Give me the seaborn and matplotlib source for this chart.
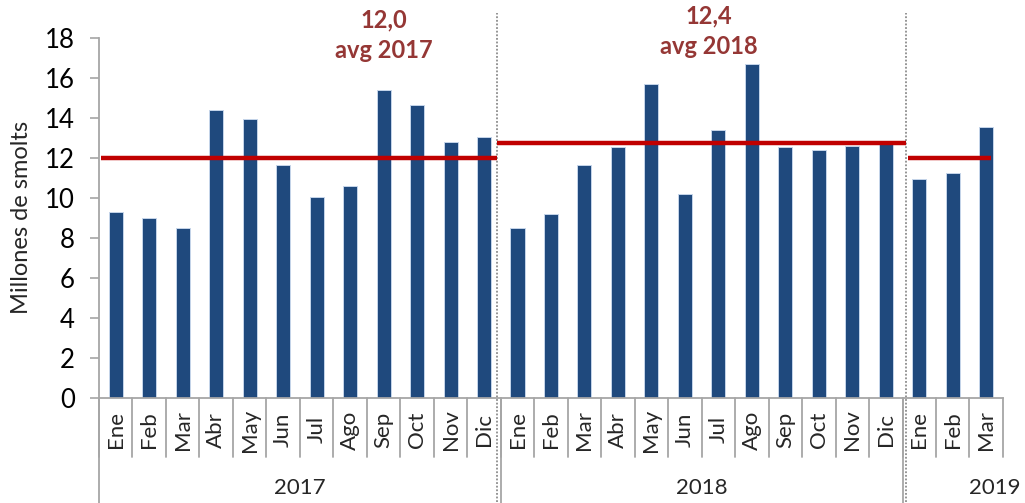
import matplotlib
matplotlib.use("Agg")
import matplotlib.pyplot as plt
import seaborn as sns
import pandas as pd
import numpy as np
from matplotlib.transforms import blended_transform_factory

# ---------------- data ----------------
years = ["2017", "2018", "2019"]
months_2017 = ["Ene", "Feb", "Mar", "Abr", "May", "Jun", "Jul", "Ago", "Sep", "Oct", "Nov", "Dic"]
months_2018 = ["Ene", "Feb", "Mar", "Abr", "May", "Jun", "Jul", "Ago", "Sep", "Oct", "Nov", "Dic"]
months_2019 = ["Ene", "Feb", "Mar"]
values_2017 = [9.3, 9.0, 8.5, 14.4, 13.95, 11.65, 10.05, 10.6, 15.4, 14.65, 12.8, 13.05]
values_2018 = [8.5, 9.2, 11.65, 12.55, 15.7, 10.2, 13.4, 16.7, 12.55, 12.4, 12.6, 12.85]
values_2019 = [10.95, 11.25, 13.55]
avg_lines = [12.0, 12.75, 12.0]
avg_values_text = ["12,0", "12,4", None]
ylabel = "Millones de smolts"

months_by_year = [months_2017, months_2018, months_2019]
values_by_year = [values_2017, values_2018, values_2019]

rows = []
for y, ms, vs in zip(years, months_by_year, values_by_year):
    for m, v in zip(ms, vs):
        rows.append({"key": f"{m}-{y}", "month": m, "year": y, "value": v})
df = pd.DataFrame(rows)
order = list(df["key"])

# ---------------- style ----------------
sns.set_theme(style="white")
plt.rcParams["font.family"] = ["Lato", "DejaVu Sans"]

BAR = "#1F497D"
RED = "#C00000"
LBL = "#953735"
GRID = "#A6A6A6"

fig = plt.figure(figsize=(10.25, 5.03), dpi=100)
ax = fig.add_axes([0.0966, 0.2097, 0.8819, 0.7147])

sns.barplot(data=df, x="key", y="value", order=order, color=BAR, saturation=1,
            width=0.42, edgecolor="#C5D5EA", linewidth=0.7, ax=ax)

n = len(df)
ax.set_xlim(-0.5, n - 0.5)
ax.set_ylim(0, 18)
ax.set_yticks(np.arange(0, 19, 2))
ax.tick_params(axis="y", labelsize=18.5, length=6.5, width=1.2, color=GRID,
               pad=11, left=True, labelcolor="black")
ax.set_xticks([])
ax.set_xlabel("")
ax.set_ylabel(ylabel, fontsize=17, labelpad=9)
for s in ["top", "right"]:
    ax.spines[s].set_visible(False)
for s in ["left", "bottom"]:
    ax.spines[s].set_color(GRID)
    ax.spines[s].set_linewidth(1.3)

trans = blended_transform_factory(ax.transData, ax.transAxes)

# group geometry
sizes = [len(m) for m in months_by_year]
starts = np.cumsum([0] + sizes[:-1])
ends = starts + np.array(sizes) - 1

# average lines
line_spans = [(-0.45, 11.4), (11.4, 23.6), (23.65, 26.15)]
for avg, (x0, x1) in zip(avg_lines, line_spans):
    ax.hlines(avg, x0, x1, color=RED, linewidth=3.2, zorder=4)

# average labels
label_pos = [(8.0, 18.93, 17.38), (17.7, 19.13, 17.58)]
for txt, yr, (lx, y1, y2) in zip(avg_values_text, years, label_pos):
    if txt is None:
        continue
    ax.text(lx, y1, txt, color=LBL, fontsize=17, fontweight="bold",
            ha="center", va="center", clip_on=False)
    ax.text(lx, y2, f"avg {yr}", color=LBL, fontsize=17, fontweight="bold",
            ha="center", va="center", clip_on=False)

# dotted year separators
for xs in [11.4, 23.6]:
    ax.plot([xs, xs], [-0.29, 1.07], transform=trans, color="#8C8C8C",
            linestyle=(0, (1, 1)), linewidth=1.3, clip_on=False, zorder=1)

# category axis: month labels & tick separators
for i, m in enumerate(df["month"]):
    ax.text(i, -0.09, m, rotation=90, ha="center", va="center",
            fontsize=16, transform=trans, clip_on=False)
for b in np.arange(-0.5, n, 1.0):
    ax.plot([b, b], [0, -0.1655], transform=trans, color=GRID, linewidth=1.3,
            clip_on=False)
# group boundaries (long)
for b in list(starts - 0.5):
    ax.plot([b, b], [0, -0.30], transform=trans, color=GRID, linewidth=1.3,
            clip_on=False)

# year labels
year_x = [(s + e) / 2 for s, e in zip(starts, ends)]
year_x[-1] = 26.26
for yx, yr in zip(year_x, years):
    ax.text(yx, -0.2517, yr, ha="center", va="center", fontsize=16,
            transform=trans, clip_on=False)

fig.savefig("out.png", dpi=100)
